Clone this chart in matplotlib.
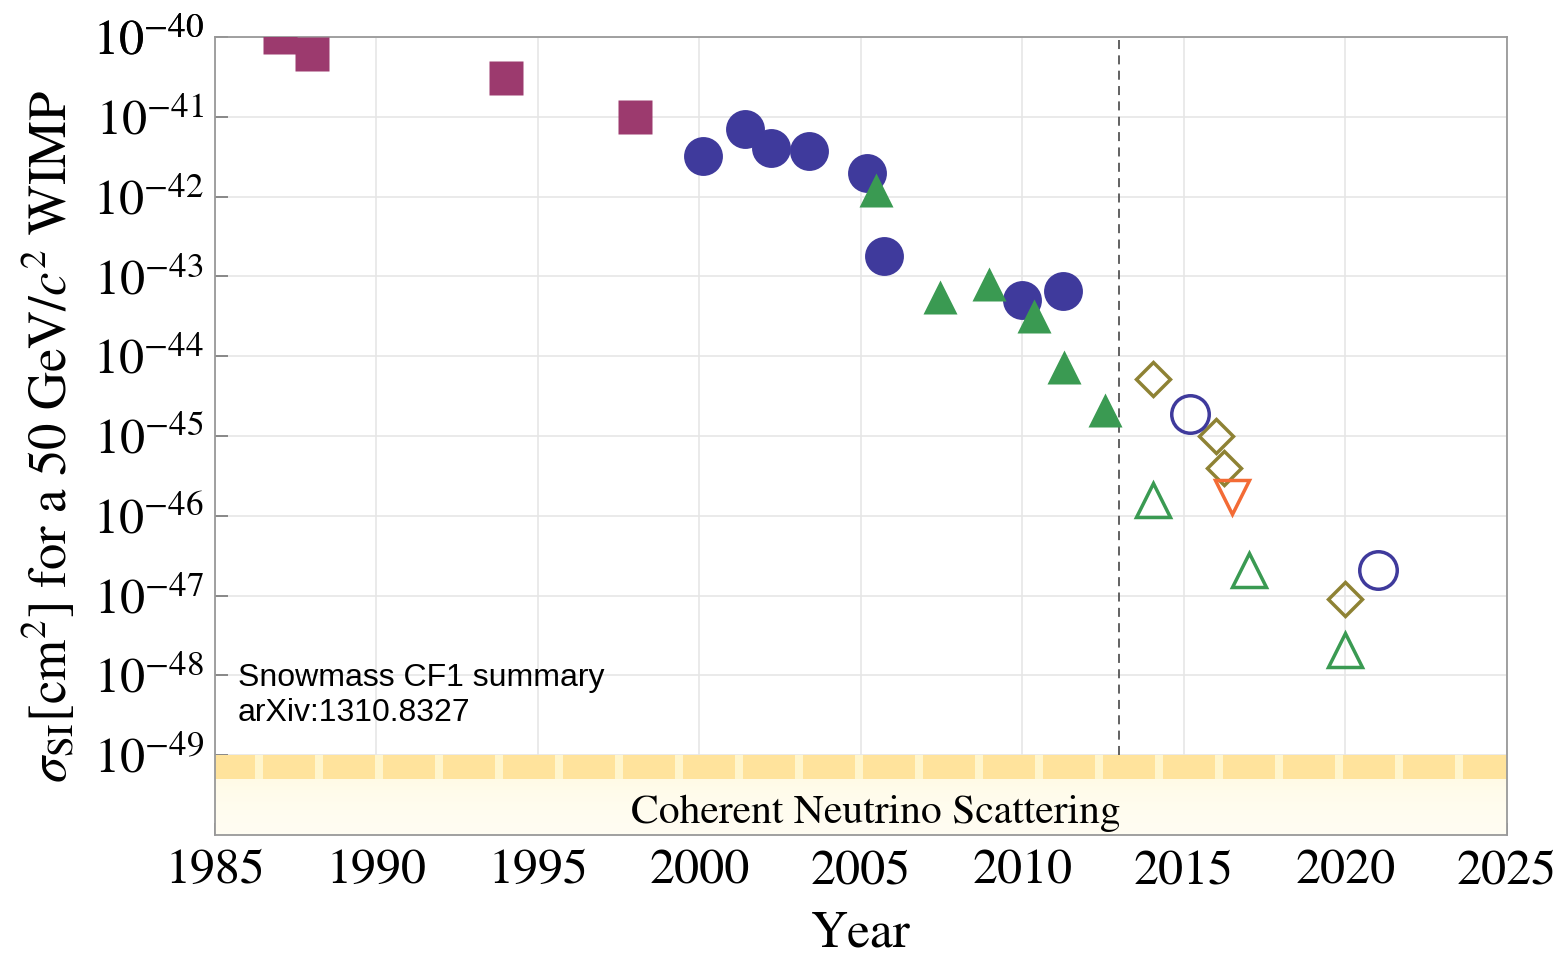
import numpy as np
import matplotlib.pyplot as plt
from matplotlib.colors import LinearSegmentedColormap

plt.rcParams['font.family'] = 'STIXGeneral'
plt.rcParams['mathtext.fontset'] = 'stix'

# closed symbols: results up to 2013
sq_year = [1987.0, 1988.0, 1994.0, 1998.0]
sq_sigma = [1.0e-40, 6.2e-41, 3.1e-41, 1.0e-41]

circ_year = [2000.1, 2001.4, 2002.2, 2003.4, 2005.2, 2005.7, 2010.0, 2011.25]
circ_sigma = [3.2e-42, 7.0e-42, 4.1e-42, 3.7e-42, 2.0e-42, 1.8e-43, 5.0e-44, 6.5e-44]

tri_year = [2005.45, 2007.45, 2008.95, 2010.35, 2011.3, 2012.55]
tri_sigma = [1.2e-42, 5.6e-44, 8.0e-44, 3.2e-44, 7.3e-45, 2.1e-45]

# open symbols: projections
dia_year = [2014.05, 2016.0, 2016.25, 2020.0]
dia_sigma = [5.2e-45, 1.0e-45, 4.0e-46, 9.0e-48]

ocirc_year = [2015.2, 2021.0]
ocirc_sigma = [1.9e-45, 2.1e-47]

otri_year = [2014.05, 2017.0, 2020.0]
otri_sigma = [1.6e-46, 2.1e-47, 2.1e-48]

vtri_year = [2016.5]
vtri_sigma = [1.7e-46]

x_ticks = [1985, 1990, 1995, 2000, 2005, 2010, 2015, 2020, 2025]
y_exps = list(range(-49, -39))
nu_floor = 1e-49
now_year = 2013

fig = plt.figure(figsize=(15.61, 9.57), dpi=100)
ax = fig.add_axes([0.1377, 0.1275, 0.8277, 0.8338])
ax.set_yscale('log')

ax.set_xticks(x_ticks)
ax.set_xticklabels([str(t) for t in x_ticks])
ax.set_yticks([10.0 ** e for e in y_exps + [-40]])
ax.set_yticklabels([r'$10^{%d}$' % e for e in y_exps + [-40]])
ax.yaxis.set_minor_locator(plt.NullLocator())
ax.tick_params(axis='both', direction='in', length=9, width=1.2, color='#777777',
               labelsize=36, top=False, right=False)
ax.tick_params(axis='x', pad=10)
ax.tick_params(axis='y', pad=8)
ax.grid(True, color='#e6e6e6', lw=1.2)
ax.set_axisbelow(True)
for s in ax.spines.values():
    s.set_color('#999999')
    s.set_linewidth(1.3)

# neutrino band
strip_lo = 10 ** -49.3
cmap = LinearSegmentedColormap.from_list('nu', ['#fffdf2', '#fff7d6'])
ax.imshow(np.linspace(0, 1, 50).reshape(-1, 1), cmap=cmap, aspect='auto',
          extent=[1985, 2025, 1e-50, nu_floor], origin='lower', zorder=1)
ax.axhspan(strip_lo, nu_floor, color='#fff5cc', lw=0, zorder=1.5)
period = 60 / 32.3
starts = np.arange(1986.49 - period, 2025, period)
ax.broken_barh([(s, period - 0.25) for s in starts], (strip_lo, nu_floor - strip_lo),
               facecolor='#ffe39c', lw=0, zorder=1.6)
ax.text(2005.45, 10 ** -49.85, 'Coherent Neutrino Scattering', ha='center', va='baseline',
        fontsize=30, zorder=5)
ax.set_xlim(1985, 2025)
ax.set_ylim(1e-50, 1e-40)

ax.plot([now_year, now_year], [nu_floor, 1e-40], ls=(0, (5, 3.5)), color='#555555', lw=1.3, zorder=2)

ax.plot(sq_year, sq_sigma, 's', ms=24.5, color='#9c3a6e', mec='none', zorder=3)
ax.plot(circ_year, circ_sigma, 'o', ms=28, color='#3f3a9c', mec='none', zorder=3)
ax.plot(tri_year, tri_sigma, '^', ms=25, color='#3a9a52', mec='none', zorder=4)

ax.plot(dia_year, dia_sigma, 'D', ms=17, mfc='none', mec='#8e8234', mew=2.5, zorder=3)
ax.plot(ocirc_year, ocirc_sigma, 'o', ms=27, mfc='none', mec='#3f3a9c', mew=2.5, zorder=3)
ax.plot(otri_year, otri_sigma, '^', ms=24, mfc='none', mec='#3a9a52', mew=2.5, zorder=3)
ax.plot(vtri_year, vtri_sigma, 'v', ms=24, mfc='none', mec='#f36b35', mew=2.5, zorder=3)

ax.text(1985.7, 10 ** -48.25, 'Snowmass CF1 summary\narXiv:1310.8327', family='Liberation Sans',
        fontsize=23, va='center', ha='left', linespacing=1.2, zorder=5)

ax.set_xlabel('Year', fontsize=37, labelpad=12)
ax.set_ylabel(r'$\sigma_{\mathrm{SI}}[\mathrm{cm}^2]$ for a 50 GeV/$c^2$ WIMP', fontsize=38, labelpad=10)

fig.savefig('out.png', dpi=100)
